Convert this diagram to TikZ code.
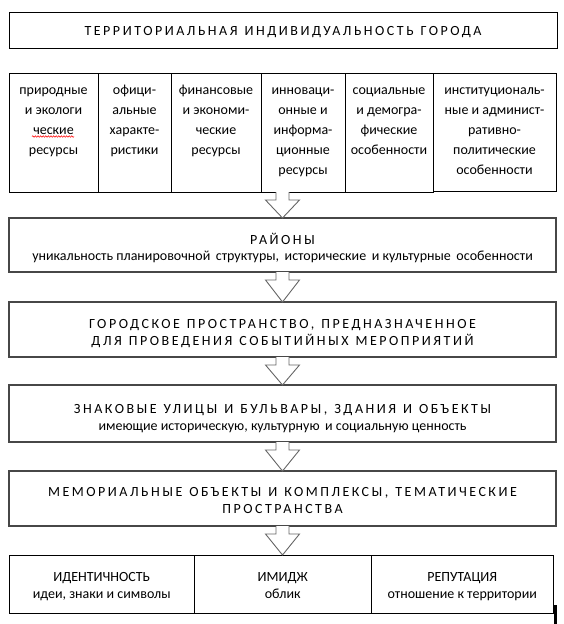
\documentclass[tikz,border=0pt]{standalone}
\usepackage{fontspec}
\setmainfont{Carlito}
\usetikzlibrary{calc,decorations.pathmorphing}
\newcommand\spc{\addfontfeature{LetterSpace=18}\spaceskip=7pt\relax}
\newcommand\blockarrow[2]{%
  \filldraw[barrow] let \p1=(#1), \p2=(#2) in
  (\x1-6.5pt,\y1) -- (\x1-6.5pt,\y1-8pt) -- (\x1-17pt,\y1-8pt) -- (\x1,\y2)
  -- (\x1+17pt,\y1-8pt) -- (\x1+6.5pt,\y1-8pt) -- (\x1+6.5pt,\y1);}
\tikzset{
  tbox/.style={draw=black, line width=1pt, inner sep=0pt, outer sep=0pt},
  fbox/.style={draw=black!72, line width=1.2pt, inner sep=0pt, outer sep=0pt, minimum width=547},
  barrow/.style={draw=black!60, fill=white, line width=0.9pt},
  celltxt/.style={anchor=north, inner sep=0pt, align=center, font=\fontsize{14}{20}\selectfont},
  flowtxt/.style={anchor=north, inner sep=0pt, align=center, font=\fontsize{14}{16.7}\selectfont},
  bottxt/.style={anchor=north, inner sep=0pt, align=center, font=\fontsize{14}{16.3}\selectfont},
}
\begin{document}
\begin{tikzpicture}[x=1pt,y=-1pt]
\useasboundingbox (0,0) rectangle (564,624);
% title
\node[tbox, minimum width=548, minimum height=36] (title) at (283,30) {};
\node[anchor=base, inner sep=0pt, font=\fontsize{14}{16}\selectfont] (titletxt) at (283,35)
  {\spc ТЕРРИТОРИАЛЬНАЯ ИНДИВИДУАЛЬНОСТЬ ГОРОДА};
% table of six
\node[tbox, minimum width=89, minimum height=119] (c1) at (53.5,132.5) {};
\node[tbox, minimum width=73, minimum height=119] (c2) at (134.5,132.5) {};
\node[tbox, minimum width=90, minimum height=119] (c3) at (216,132.5) {};
\node[tbox, minimum width=84, minimum height=119] (c4) at (303,132.5) {};
\node[tbox, minimum width=88, minimum height=119] (c5) at (389,132.5) {};
\node[tbox, minimum width=123, minimum height=118] (c6) at (494.5,132) {};
\node[celltxt] (t1) at (53.5,80) {\strut природные\\и экологи\\ческие\\ресурсы};
\node[celltxt] (t2) at (134.5,80) {\strut офици-\\альные\\характе-\\ристики};
\node[celltxt] (t3) at (216,80) {\strut финансовые\\и экономи-\\ческие\\ресурсы};
\node[celltxt] (t4) at (303,80) {\strut инноваци-\\онные и\\информа-\\ционные\\ресурсы};
\node[celltxt] (t5) at (389,80) {\strut социальные\\и демогра-\\фические\\особенности};
\node[celltxt] (t6) at (494.5,80) {\strut институциональ-\\ные и админист-\\ративно-\\политические\\особенности};
\draw[red, line width=0.5pt, decorate, decoration={snake, amplitude=0.8pt, segment length=2.6pt}]
  (32,136.5) -- (74,136.5);
\coordinate (tb) at (282.5,192);
% flow boxes
\node[fbox, minimum height=54] (r) at (282.5,245) {};
\node[flowtxt] (rt) at (282.5,232.3) {\strut{\spc РАЙОНЫ}\\уникальность планировочной\, структуры,\, исторические\, и культурные\, особенности};
\node[fbox, minimum height=55] (g) at (282.5,329.5) {};
\node[flowtxt] (gt) at (282.5,316.6) {\strut{\spc ГОРОДСКОЕ ПРОСТРАНСТВО, ПРЕДНАЗНАЧЕННОЕ}\\{\spc ДЛЯ ПРОВЕДЕНИЯ СОБЫТИЙНЫХ МЕРОПРИЯТИЙ}};
\node[fbox, minimum height=57] (z) at (282.5,413.5) {};
\node[flowtxt] (zt) at (282.5,401.6) {\strut{\spc ЗНАКОВЫЕ УЛИЦЫ И БУЛЬВАРЫ, ЗДАНИЯ И ОБЪЕКТЫ}\\имеющие историческую, культурную\, и социальную ценность};
\node[fbox, minimum height=55] (m) at (282.5,498.5) {};
\node[flowtxt] (mt) at (282.5,485) {\strut{\spc МЕМОРИАЛЬНЫЕ ОБЪЕКТЫ И КОМПЛЕКСЫ, ТЕМАТИЧЕСКИЕ}\\{\spc ПРОСТРАНСТВА}};
% bottom row
\node[tbox, minimum width=185.5, minimum height=58] (b1) at (101.75,584) {};
\node[tbox, minimum width=176.5, minimum height=58] (b2) at (282.75,584) {};
\node[tbox, minimum width=182.5, minimum height=58] (b3) at (462.25,584) {};
\node[bottxt] (bt1) at (101.75,570.3) {\strut ИДЕНТИЧНОСТЬ\\идеи, знаки и символы};
\node[bottxt] (bt2) at (282.75,570.3) {\strut ИМИДЖ\\облик};
\node[bottxt] (bt3) at (462.25,570.3) {\strut РЕПУТАЦИЯ\\отношение к территории};
\draw[black, line width=3pt] (555,605) -- (555,624);
% arrows
\blockarrow{tb}{r.north}
\blockarrow{r.south}{g.north}
\blockarrow{g.south}{z.north}
\blockarrow{z.south}{m.north}
\blockarrow{m.south}{b2.north}
\end{tikzpicture}
\end{document}
